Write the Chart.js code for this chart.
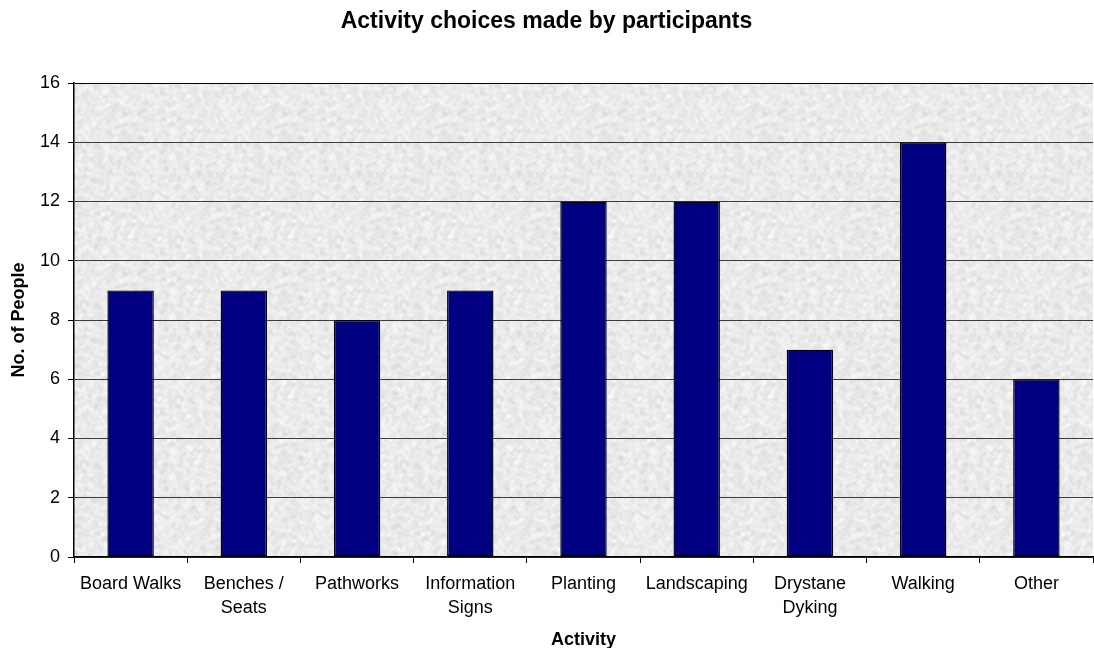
<!DOCTYPE html>
<html>
<head>
<meta charset="utf-8">
<script src="https://cdn.jsdelivr.net/npm/chart.js@4.4.1/dist/chart.umd.min.js"></script>
<style>
html,body{margin:0;padding:0;background:#fff;}
#wrap{width:1094px;height:648px;position:relative;}
</style>
</head>
<body>
<div id="wrap"><canvas id="c" width="1094" height="648"></canvas></div>
<script>
const categories = [["Board Walks"], ["Benches /", "Seats"], ["Pathworks"], ["Information", "Signs"], ["Planting"], ["Landscaping"], ["Drystane", "Dyking"], ["Walking"], ["Other"]];
const peopleCounts = [9, 9, 8, 9, 12, 12, 7, 14, 6];
const yTicks = [0, 2, 4, 6, 8, 10, 12, 14, 16];

const FONT = "'Liberation Sans', Arial, Helvetica, sans-serif";

// granite-like texture for the plot area (decorative, deterministic)
function makeTexture() {
  const s = 160;
  const cv = document.createElement('canvas');
  cv.width = s; cv.height = s;
  const g = cv.getContext('2d');
  const img = g.createImageData(s, s);
  let seed = 12345;
  function rnd() { seed = (seed * 1103515245 + 12345) & 0x7fffffff; return seed / 0x7fffffff; }
  const raw = new Float32Array(s * s);
  for (let i = 0; i < s * s; i++) raw[i] = rnd();
  const blur = new Float32Array(s * s);
  for (let y = 0; y < s; y++) {
    for (let x = 0; x < s; x++) {
      let sum = 0;
      for (let dy = -2; dy <= 2; dy++) for (let dx = -2; dx <= 2; dx++) {
        sum += raw[((y + dy + s) % s) * s + ((x + dx + s) % s)];
      }
      blur[y * s + x] = sum / 25;
    }
  }
  for (let y = 0; y < s; y++) {
    for (let x = 0; x < s; x++) {
      const v = blur[y * s + x];
      const fine = raw[y * s + x];
      let c = 234 - (v - 0.5) * 70 - (fine - 0.5) * 14;
      c = Math.max(205, Math.min(250, c));
      const k = (y * s + x) * 4;
      img.data[k] = c; img.data[k + 1] = c; img.data[k + 2] = c; img.data[k + 3] = 255;
    }
  }
  g.putImageData(img, 0, 0);
  return cv;
}

const bgPlugin = {
  id: 'plotBg',
  beforeDraw(chart) {
    const {ctx, chartArea: a} = chart;
    ctx.save();
    ctx.fillStyle = ctx.createPattern(makeTexture(), 'repeat');
    ctx.fillRect(a.left, a.top, a.right - a.left, a.bottom - a.top);
    ctx.restore();
  }
};

new Chart(document.getElementById('c'), {
  type: 'bar',
  data: {
    labels: categories,
    datasets: [{
      data: peopleCounts,
      backgroundColor: '#000080',
      borderColor: '#000000',
      borderWidth: 1.4,
      borderSkipped: false,
      barPercentage: 0.41,
      categoryPercentage: 1.0
    }]
  },
  options: {
    responsive: false,
    animation: false,
    devicePixelRatio: 1,
    layout: { padding: { left: 0, right: 1, top: 0, bottom: 0 } },
    plugins: {
      legend: { display: false },
      tooltip: { enabled: false },
      title: {
        display: true,
        text: 'Activity choices made by participants',
        color: '#000',
        font: { family: FONT, size: 23, weight: 'bold', lineHeight: 1.2 },
        padding: { top: 8, bottom: 47.4 }
      }
    },
    scales: {
      x: {
        offset: true,
        grid: {
          offset: true,
          display: true,
          drawOnChartArea: false,
          drawTicks: true,
          tickLength: 6,
          tickColor: '#000',
          tickWidth: 1
        },
        border: { display: true, color: '#000', width: 1.5 },
        ticks: {
          autoSkip: false,
          maxRotation: 0,
          minRotation: 0,
          padding: 10,
          color: '#000',
          font: { family: FONT, size: 18, lineHeight: 1.28 }
        },
        title: {
          display: true,
          text: 'Activity',
          color: '#000',
          font: { family: FONT, size: 18, weight: 'bold', lineHeight: '16px' },
          padding: { top: 0, bottom: 0 }
        },
        afterFit(scale) { scale.height = 91; }
      },
      y: {
        min: 0,
        max: 16,
        afterBuildTicks(scale) { scale.ticks = yTicks.map(v => ({ value: v })); },
        grid: {
          color: (c) => (c.tick && c.tick.value === 16) ? '#000' : '#3c3c3c',
          lineWidth: 1,
          drawTicks: true,
          tickLength: 6,
          tickColor: '#000'
        },
        border: { display: true, color: '#000', width: 1.5 },
        ticks: {
          padding: 8,
          color: '#000',
          font: { family: FONT, size: 18 }
        },
        title: {
          display: true,
          text: 'No. of People',
          color: '#000',
          font: { family: FONT, size: 18, weight: 'bold', lineHeight: 1.2 },
          padding: { top: 8, bottom: 0 }
        },
        afterFit(scale) { scale.width = 74; }
      }
    }
  },
  plugins: [bgPlugin]
});
</script>
</body>
</html>
